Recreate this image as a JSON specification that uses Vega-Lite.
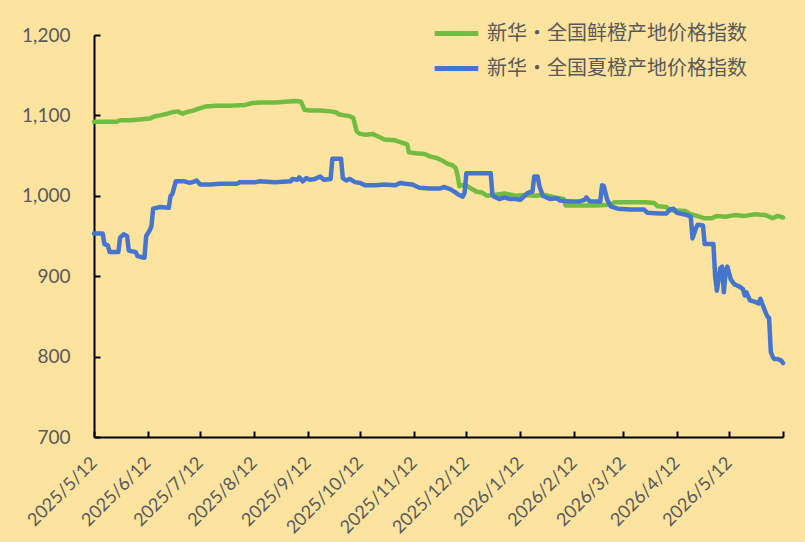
{
  "$schema": "https://vega.github.io/schema/vega-lite/v6.json",
  "width": 689,
  "height": 402,
  "autosize": "none",
  "padding": {"left": 94, "top": 35, "right": 22, "bottom": 105},
  "background": "#FCE3A0",
  "config": {
    "view": {"stroke": null},
    "font": "Lato"
  },
  "datasets": {
    "green": [
      {"date":"2025-05-12","value":1092},{"date":"2025-05-18","value":1092},{"date":"2025-05-25","value":1092},{"date":"2025-05-27","value":1094},
      {"date":"2025-06-02","value":1094},{"date":"2025-06-07","value":1095},{"date":"2025-06-13","value":1096},{"date":"2025-06-16","value":1099},
      {"date":"2025-06-19","value":1100},{"date":"2025-06-23","value":1102},{"date":"2025-06-26","value":1104},{"date":"2025-06-29","value":1105},
      {"date":"2025-07-02","value":1102},{"date":"2025-07-04","value":1104},{"date":"2025-07-08","value":1106},{"date":"2025-07-12","value":1109},
      {"date":"2025-07-15","value":1111},{"date":"2025-07-21","value":1112},{"date":"2025-07-29","value":1112},{"date":"2025-08-07","value":1113},
      {"date":"2025-08-10","value":1115},{"date":"2025-08-15","value":1116},{"date":"2025-08-24","value":1116},{"date":"2025-08-30","value":1117},
      {"date":"2025-09-05","value":1118},{"date":"2025-09-08","value":1117},{"date":"2025-09-10","value":1107},{"date":"2025-09-13","value":1106},
      {"date":"2025-09-19","value":1106},{"date":"2025-09-25","value":1105},{"date":"2025-09-28","value":1104},{"date":"2025-09-30","value":1101},
      {"date":"2025-10-03","value":1100},{"date":"2025-10-06","value":1099},{"date":"2025-10-08","value":1097},{"date":"2025-10-10","value":1080},
      {"date":"2025-10-12","value":1077},{"date":"2025-10-15","value":1076},{"date":"2025-10-19","value":1077},{"date":"2025-10-22","value":1074},
      {"date":"2025-10-26","value":1070},{"date":"2025-11-01","value":1069},{"date":"2025-11-05","value":1066},{"date":"2025-11-08","value":1064},
      {"date":"2025-11-09","value":1054},{"date":"2025-11-13","value":1053},{"date":"2025-11-18","value":1052},{"date":"2025-11-21","value":1049},
      {"date":"2025-11-25","value":1047},{"date":"2025-11-28","value":1044},{"date":"2025-12-01","value":1040},{"date":"2025-12-04","value":1038},
      {"date":"2025-12-06","value":1034},{"date":"2025-12-07","value":1025},{"date":"2025-12-08","value":1012},{"date":"2025-12-11","value":1014},
      {"date":"2025-12-14","value":1010},{"date":"2025-12-18","value":1005},{"date":"2025-12-21","value":1004},{"date":"2025-12-24","value":1000},
      {"date":"2025-12-28","value":1001},{"date":"2026-01-03","value":1003},{"date":"2026-01-09","value":1000},{"date":"2026-01-15","value":1001},
      {"date":"2026-01-20","value":1000},{"date":"2026-01-26","value":1001},{"date":"2026-02-01","value":998},{"date":"2026-02-06","value":996},
      {"date":"2026-02-07","value":988},{"date":"2026-02-15","value":988},{"date":"2026-02-24","value":988},{"date":"2026-03-05","value":989},
      {"date":"2026-03-07","value":992},{"date":"2026-03-16","value":992},{"date":"2026-03-25","value":992},{"date":"2026-03-30","value":991},
      {"date":"2026-04-01","value":987},{"date":"2026-04-06","value":986},{"date":"2026-04-08","value":982},{"date":"2026-04-17","value":981},
      {"date":"2026-04-20","value":977},{"date":"2026-04-25","value":974},{"date":"2026-04-28","value":972},{"date":"2026-05-02","value":972},
      {"date":"2026-05-05","value":975},{"date":"2026-05-10","value":974},{"date":"2026-05-15","value":976},{"date":"2026-05-21","value":975},
      {"date":"2026-05-27","value":977},{"date":"2026-06-02","value":976},{"date":"2026-06-06","value":972},{"date":"2026-06-09","value":975},
      {"date":"2026-06-12","value":973}
    ],
    "blue": [
      {"date":"2025-05-12","value":953},{"date":"2025-05-17","value":953},{"date":"2025-05-18","value":940},{"date":"2025-05-20","value":938},
      {"date":"2025-05-21","value":930},{"date":"2025-05-26","value":930},{"date":"2025-05-27","value":948},{"date":"2025-05-29","value":952},
      {"date":"2025-05-31","value":950},{"date":"2025-06-01","value":932},{"date":"2025-06-05","value":930},{"date":"2025-06-06","value":925},
      {"date":"2025-06-10","value":923},{"date":"2025-06-11","value":950},{"date":"2025-06-13","value":957},{"date":"2025-06-14","value":962},
      {"date":"2025-06-15","value":984},{"date":"2025-06-19","value":986},{"date":"2025-06-24","value":985},{"date":"2025-06-25","value":1000},
      {"date":"2025-06-26","value":1002},{"date":"2025-06-28","value":1018},{"date":"2025-07-03","value":1018},{"date":"2025-07-06","value":1016},
      {"date":"2025-07-09","value":1018},{"date":"2025-07-10","value":1019},{"date":"2025-07-12","value":1014},{"date":"2025-07-18","value":1014},
      {"date":"2025-07-23","value":1015},{"date":"2025-08-02","value":1015},{"date":"2025-08-04","value":1017},{"date":"2025-08-13","value":1017},
      {"date":"2025-08-15","value":1018},{"date":"2025-08-24","value":1017},{"date":"2025-09-02","value":1018},{"date":"2025-09-03","value":1021},
      {"date":"2025-09-06","value":1020},{"date":"2025-09-07","value":1023},{"date":"2025-09-09","value":1018},{"date":"2025-09-11","value":1022},
      {"date":"2025-09-13","value":1020},{"date":"2025-09-16","value":1021},{"date":"2025-09-19","value":1024},{"date":"2025-09-21","value":1020},
      {"date":"2025-09-25","value":1021},{"date":"2025-09-26","value":1046},{"date":"2025-10-01","value":1046},{"date":"2025-10-02","value":1022},
      {"date":"2025-10-04","value":1019},{"date":"2025-10-06","value":1021},{"date":"2025-10-09","value":1017},{"date":"2025-10-12","value":1016},
      {"date":"2025-10-15","value":1013},{"date":"2025-10-21","value":1013},{"date":"2025-10-26","value":1014},{"date":"2025-11-01","value":1013},
      {"date":"2025-11-04","value":1016},{"date":"2025-11-07","value":1015},{"date":"2025-11-11","value":1014},{"date":"2025-11-15","value":1010},
      {"date":"2025-11-21","value":1009},{"date":"2025-11-27","value":1009},{"date":"2025-11-29","value":1011},{"date":"2025-12-03","value":1008},
      {"date":"2025-12-06","value":1004},{"date":"2025-12-07","value":1002},{"date":"2025-12-10","value":999},{"date":"2025-12-11","value":1004},
      {"date":"2025-12-12","value":1028},{"date":"2025-12-17","value":1028},{"date":"2025-12-26","value":1028},{"date":"2025-12-27","value":1001},
      {"date":"2025-12-28","value":999},{"date":"2025-12-31","value":996},{"date":"2026-01-03","value":998},{"date":"2026-01-06","value":996},
      {"date":"2026-01-09","value":996},{"date":"2026-01-12","value":995},{"date":"2026-01-16","value":1003},{"date":"2026-01-18","value":1005},
      {"date":"2026-01-19","value":1005},{"date":"2026-01-20","value":1024},{"date":"2026-01-22","value":1024},{"date":"2026-01-23","value":1012},
      {"date":"2026-01-25","value":1000},{"date":"2026-01-29","value":996},{"date":"2026-02-02","value":997},{"date":"2026-02-04","value":994},
      {"date":"2026-02-10","value":993},{"date":"2026-02-15","value":993},{"date":"2026-02-18","value":995},{"date":"2026-02-19","value":998},
      {"date":"2026-02-21","value":993},{"date":"2026-02-27","value":993},{"date":"2026-02-28","value":1013},{"date":"2026-03-01","value":1012},
      {"date":"2026-03-03","value":995},{"date":"2026-03-05","value":987},{"date":"2026-03-09","value":984},{"date":"2026-03-16","value":983},
      {"date":"2026-03-24","value":983},{"date":"2026-03-26","value":979},{"date":"2026-04-02","value":978},{"date":"2026-04-06","value":978},
      {"date":"2026-04-08","value":983},{"date":"2026-04-10","value":984},{"date":"2026-04-12","value":979},{"date":"2026-04-18","value":976},
      {"date":"2026-04-20","value":974},{"date":"2026-04-21","value":947},{"date":"2026-04-23","value":960},{"date":"2026-04-24","value":964},
      {"date":"2026-04-27","value":963},{"date":"2026-04-28","value":940},{"date":"2026-05-03","value":940},{"date":"2026-05-04","value":900},
      {"date":"2026-05-05","value":882},{"date":"2026-05-07","value":910},{"date":"2026-05-08","value":912},{"date":"2026-05-09","value":880},
      {"date":"2026-05-10","value":905},{"date":"2026-05-11","value":912},{"date":"2026-05-13","value":896},{"date":"2026-05-15","value":890},
      {"date":"2026-05-18","value":887},{"date":"2026-05-20","value":884},{"date":"2026-05-21","value":876},{"date":"2026-05-22","value":880},
      {"date":"2026-05-24","value":870},{"date":"2026-05-27","value":868},{"date":"2026-05-29","value":866},{"date":"2026-05-30","value":872},
      {"date":"2026-05-31","value":866},{"date":"2026-06-02","value":855},{"date":"2026-06-03","value":850},{"date":"2026-06-04","value":848},
      {"date":"2026-06-05","value":806},{"date":"2026-06-06","value":800},{"date":"2026-06-07","value":797},{"date":"2026-06-09","value":797},
      {"date":"2026-06-11","value":795},{"date":"2026-06-12","value":792}
    ]
  },
  "layer": [
    {
      "data": {"name": "green", "format": {"parse": {"date": "date:'%Y-%m-%d'"}}},
      "transform": [{"calculate": "'新华·全国鲜橙产地价格指数'", "as": "series"}],
      "mark": {"type": "line", "strokeWidth": 4.5, "strokeJoin": "round", "strokeCap": "round"},
      "encoding": {
        "x": {
          "field": "date", "type": "temporal",
          "scale": {"domain": [{"year": 2025, "month": 5, "date": 12}, {"year": 2026, "month": 6, "date": 12}]},
          "axis": {
            "title": null,
            "values": [
              {"year": 2025, "month": 5, "date": 12}, {"year": 2025, "month": 6, "date": 12}, {"year": 2025, "month": 7, "date": 12},
              {"year": 2025, "month": 8, "date": 12}, {"year": 2025, "month": 9, "date": 12}, {"year": 2025, "month": 10, "date": 12},
              {"year": 2025, "month": 11, "date": 12}, {"year": 2025, "month": 12, "date": 12}, {"year": 2026, "month": 1, "date": 12},
              {"year": 2026, "month": 2, "date": 12}, {"year": 2026, "month": 3, "date": 12}, {"year": 2026, "month": 4, "date": 12},
              {"year": 2026, "month": 5, "date": 12}, {"year": 2026, "month": 6, "date": 12}
            ],
            "labelExpr": "(year(datum.value) == 2026 && month(datum.value) == 5) ? '' : timeFormat(datum.value, '%Y/%-m/%-d')",
            "labelAngle": -45,
            "labelAlign": "right",
            "labelBaseline": "middle",
            "labelFontSize": 18,
            "labelColor": "#595959",
            "labelPadding": 29,
            "labelOverlap": false,
            "labelFlush": false,
            "grid": false,
            "domainColor": "#000000",
            "domainWidth": 2,
            "tickColor": "#000000",
            "tickWidth": 2,
            "tickSize": -6
          }
        },
        "y": {
          "field": "value", "type": "quantitative",
          "scale": {"domain": [700, 1200], "nice": false, "zero": false},
          "axis": {
            "title": null,
            "values": [700, 800, 900, 1000, 1100, 1200],
            "format": ",.0f",
            "labelFontSize": 19,
            "labelColor": "#595959",
            "labelPadding": 30,
            "grid": false,
            "domainColor": "#000000",
            "domainWidth": 2,
            "tickColor": "#000000",
            "tickWidth": 2,
            "tickSize": -6
          }
        },
        "color": {
          "field": "series", "type": "nominal",
          "scale": {
            "domain": ["新华·全国鲜橙产地价格指数", "新华·全国夏橙产地价格指数"],
            "range": ["#72BC42", "#4675CD"]
          },
          "legend": {
            "title": null,
            "orient": "none",
            "legendX": 338,
            "legendY": -26,
            "symbolType": "stroke",
            "symbolSize": 1900,
            "symbolStrokeWidth": 5,
            "labelFont": "Noto Sans CJK SC",
            "labelFontSize": 20,
            "labelColor": "#595959",
            "labelOffset": 6,
            "rowPadding": -6,
            "labelLimit": 400
          }
        }
      }
    },
    {
      "data": {"name": "blue", "format": {"parse": {"date": "date:'%Y-%m-%d'"}}},
      "transform": [{"calculate": "'新华·全国夏橙产地价格指数'", "as": "series"}],
      "mark": {"type": "line", "strokeWidth": 4.5, "strokeJoin": "round", "strokeCap": "round"},
      "encoding": {
        "x": {"field": "date", "type": "temporal"},
        "y": {"field": "value", "type": "quantitative"},
        "color": {"field": "series", "type": "nominal"}
      }
    }
  ]
}
